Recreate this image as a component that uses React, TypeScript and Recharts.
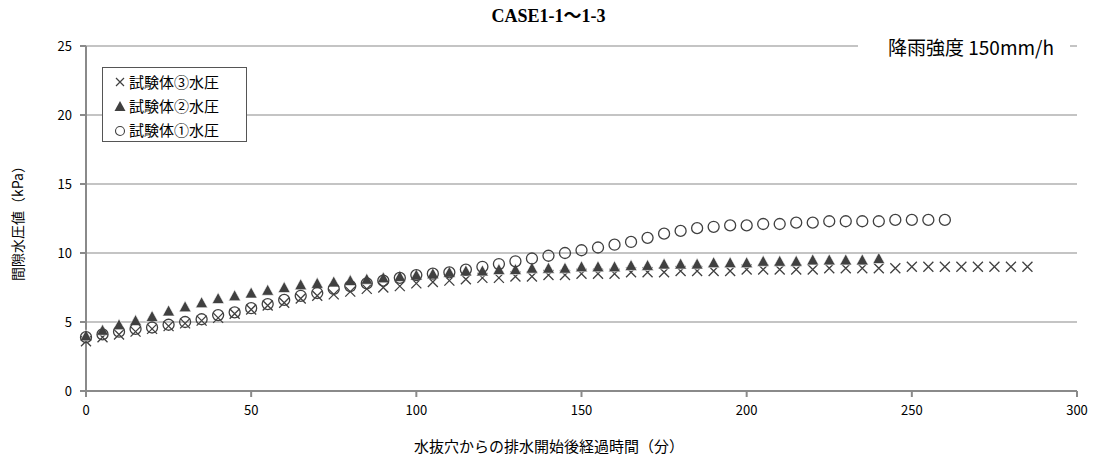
import { ScatterChart, Scatter, XAxis, YAxis, CartesianGrid } from "recharts";

// 経過時間（分）
const t3 = [0, 5, 10, 15, 20, 25, 30, 35, 40, 45, 50, 55, 60, 65, 70, 75, 80, 85, 90, 95, 100, 105, 110, 115, 120, 125, 130, 135, 140, 145, 150, 155, 160, 165, 170, 175, 180, 185, 190, 195, 200, 205, 210, 215, 220, 225, 230, 235, 240, 245, 250, 255, 260, 265, 270, 275, 280, 285];
const t2 = [0, 5, 10, 15, 20, 25, 30, 35, 40, 45, 50, 55, 60, 65, 70, 75, 80, 85, 90, 95, 100, 105, 110, 115, 120, 125, 130, 135, 140, 145, 150, 155, 160, 165, 170, 175, 180, 185, 190, 195, 200, 205, 210, 215, 220, 225, 230, 235, 240];
const t1 = [0, 5, 10, 15, 20, 25, 30, 35, 40, 45, 50, 55, 60, 65, 70, 75, 80, 85, 90, 95, 100, 105, 110, 115, 120, 125, 130, 135, 140, 145, 150, 155, 160, 165, 170, 175, 180, 185, 190, 195, 200, 205, 210, 215, 220, 225, 230, 235, 240, 245, 250, 255, 260];

// 間隙水圧値（kPa）
const p3 = [3.6, 3.9, 4.1, 4.3, 4.5, 4.7, 4.9, 5.1, 5.3, 5.6, 5.9, 6.2, 6.4, 6.7, 6.9, 7.0, 7.2, 7.4, 7.5, 7.6, 7.8, 7.9, 8.0, 8.1, 8.2, 8.2, 8.3, 8.3, 8.4, 8.4, 8.5, 8.5, 8.5, 8.6, 8.6, 8.6, 8.7, 8.7, 8.7, 8.7, 8.8, 8.8, 8.8, 8.8, 8.8, 8.9, 8.9, 8.9, 8.9, 8.9, 9.0, 9.0, 9.0, 9.0, 9.0, 9.0, 9.0, 9.0];
const p2 = [4.0, 4.4, 4.8, 5.1, 5.4, 5.8, 6.1, 6.4, 6.7, 6.9, 7.1, 7.3, 7.5, 7.7, 7.8, 7.9, 8.0, 8.1, 8.2, 8.3, 8.4, 8.5, 8.6, 8.7, 8.7, 8.8, 8.8, 8.9, 8.9, 8.9, 9.0, 9.0, 9.0, 9.1, 9.1, 9.2, 9.2, 9.2, 9.3, 9.3, 9.3, 9.4, 9.4, 9.4, 9.5, 9.5, 9.5, 9.5, 9.6];
const p1 = [3.9, 4.1, 4.3, 4.5, 4.6, 4.8, 5.0, 5.2, 5.5, 5.7, 6.0, 6.3, 6.6, 6.9, 7.1, 7.4, 7.6, 7.8, 8.0, 8.2, 8.4, 8.5, 8.6, 8.8, 9.0, 9.2, 9.4, 9.6, 9.8, 10.0, 10.2, 10.4, 10.6, 10.8, 11.1, 11.4, 11.6, 11.8, 11.9, 12.0, 12.0, 12.1, 12.1, 12.2, 12.2, 12.3, 12.3, 12.3, 12.3, 12.4, 12.4, 12.4, 12.4];

const xTicks = [0, 50, 100, 150, 200, 250, 300];
const yTicks = [0, 5, 10, 15, 20, 25];

const names = ["試験体③水圧", "試験体②水圧", "試験体①水圧"];

const data3 = t3.map((x, i) => ({ x, y: p3[i] }));
const data2 = t2.map((x, i) => ({ x, y: p2[i] }));
const data1 = t1.map((x, i) => ({ x, y: p1[i] }));

const jp = "'Noto Sans CJK JP', 'Noto Sans', sans-serif";
const mark = "#404040";

const Cross = (props: any) => {
  const { cx, cy } = props;
  const r = 5;
  return (
    <path d={`M${cx - r},${cy - r}L${cx + r},${cy + r}M${cx - r},${cy + r}L${cx + r},${cy - r}`} stroke={mark} strokeWidth={1.3} fill="none" />
  );
};

const Tri = (props: any) => {
  const { cx, cy } = props;
  return <path d={`M${cx},${cy - 6}L${cx + 6},${cy + 5}L${cx - 6},${cy + 5}Z`} fill={mark} stroke="#fff" strokeWidth={0.6} />;
};

const Ring = (props: any) => {
  const { cx, cy } = props;
  return <circle cx={cx} cy={cy} r={5.5} fill="none" stroke={mark} strokeWidth={1.3} />;
};

const LegendBox = () => (
  <div style={{ position: "absolute", left: 102, top: 67, border: "1px solid #555", background: "#fff", width: 145, height: 75, boxSizing: "border-box", padding: "2px 0 0 10px", fontFamily: jp, fontSize: 15, lineHeight: "24px", color: "#000" }}>
    {names.map((n, i) => (
      <div key={n} style={{ display: "flex", alignItems: "center" }}>
        <svg width={14} height={14} style={{ marginRight: 2 }}>
          {i === 0 && <path d="M3,3L11,11M3,11L11,3" stroke={mark} strokeWidth={1.2} />}
          {i === 1 && <path d="M7,2L12.5,12L1.5,12Z" fill={mark} />}
          {i === 2 && <circle cx={7} cy={8} r={4.5} fill="none" stroke={mark} strokeWidth={1.1} />}
        </svg>
        <span>{n}</span>
      </div>
    ))}
  </div>
);

export default function App() {
  return (
    <div style={{ position: "absolute", left: 0, top: 0, width: 1097, height: 463, background: "#fff" }}>
      <ScatterChart width={1097} height={463} margin={{ top: 46, right: 20, bottom: 0, left: 0 }}>
        <CartesianGrid vertical={false} stroke="#8a8a8a" strokeWidth={1.2} />
        <XAxis
          type="number"
          dataKey="x"
          domain={[0, 300]}
          ticks={xTicks}
          height={72}
          stroke="#8a8a8a"
          strokeWidth={2}
          tickSize={6}
          tickMargin={9}
          tick={{ fontFamily: jp, fontSize: 13, fill: "#000" }}
          label={{
            content: () => (
              <text x={549} y={452} textAnchor="middle" fontFamily={jp} fontSize={15} fill="#000">
                水抜穴からの排水開始後経過時間（分）
              </text>
            ),
          }}
        />
        <YAxis
          type="number"
          dataKey="y"
          domain={[0, 25]}
          ticks={yTicks}
          width={86}
          stroke="#8a8a8a"
          strokeWidth={2}
          tickSize={6}
          tickMargin={8}
          tick={{ fontFamily: jp, fontSize: 13, fill: "#000" }}
          label={{
            content: () => (
              <text x={23} y={220} transform="rotate(-90 23 220)" textAnchor="middle" fontFamily={jp} fontSize={14} fill="#000">
                間隙水圧値（kPa）
              </text>
            ),
          }}
        />
        <Scatter name={names[0]} data={data3} shape={Cross} isAnimationActive={false} />
        <Scatter name={names[1]} data={data2} shape={Tri} isAnimationActive={false} />
        <Scatter name={names[2]} data={data1} shape={Ring} isAnimationActive={false} />
      </ScatterChart>
      <LegendBox />
      <div style={{ position: "absolute", left: 0, top: 1, width: 1097, textAlign: "center", fontFamily: "'Liberation Serif', 'Noto Sans CJK JP', serif", fontWeight: "bold", fontSize: 18 }}>
        CASE1-1〜1-3
      </div>
      <div style={{ position: "absolute", left: 858, top: 34, width: 212, height: 25, background: "#fff", fontFamily: jp, fontSize: 19, lineHeight: "25px", paddingLeft: 30, boxSizing: "border-box", whiteSpace: "nowrap" }}>
        降雨強度 150mm/h
      </div>
    </div>
  );
}
